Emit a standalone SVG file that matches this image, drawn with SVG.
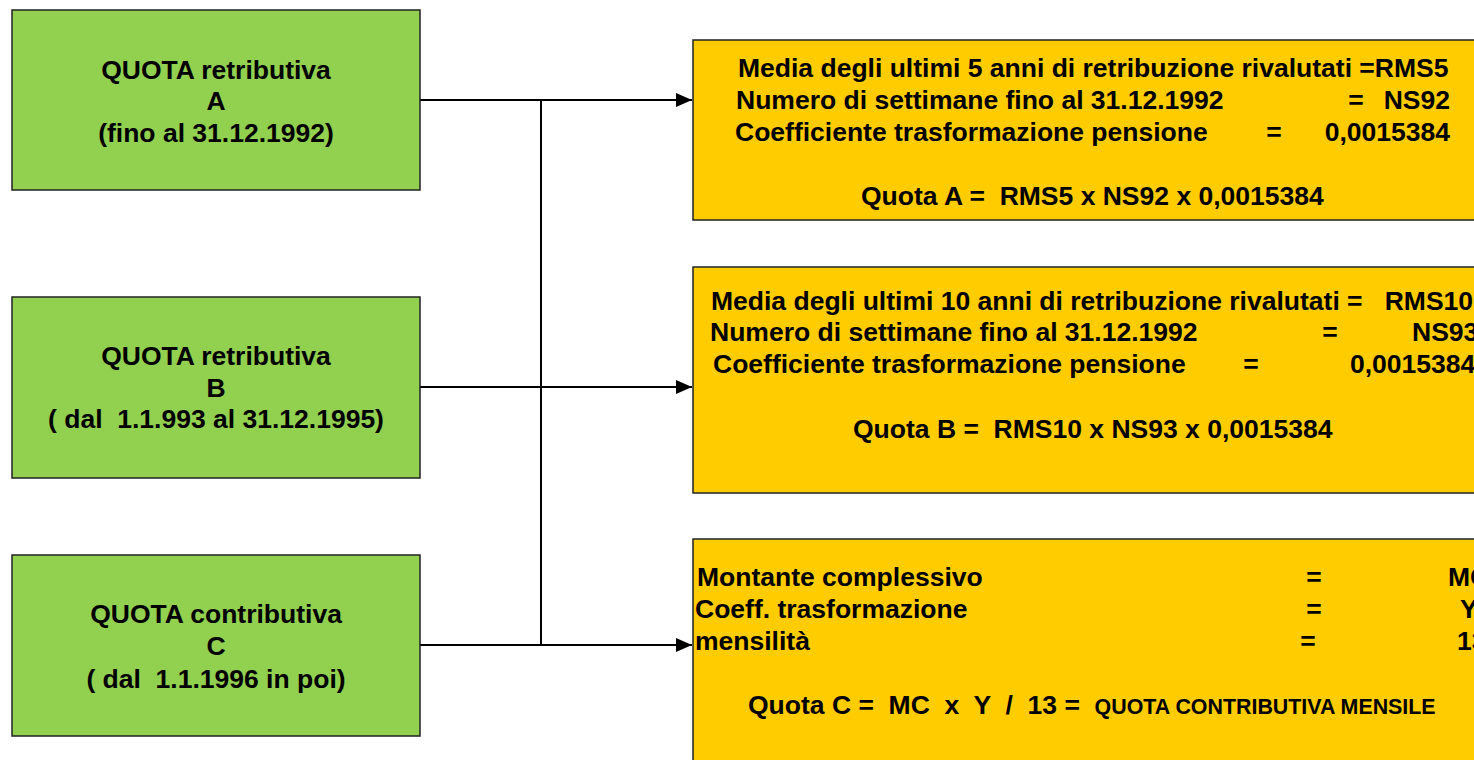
<svg xmlns="http://www.w3.org/2000/svg" width="1474" height="760" viewBox="0 0 1474 760">
<defs>
<style>
.g{fill:#92D050;stroke:#222;stroke-width:1.5}
.y{fill:#FFCC00;stroke:#222;stroke-width:1.5}
text{font-family:"Liberation Sans",Arial,sans-serif;font-weight:bold;font-size:26.5px;fill:#000}
.c{text-anchor:middle}
.e{text-anchor:end}
.s{font-size:21.4px}
.ln{fill:none;stroke:#000;stroke-width:2}
</style>
<marker id="ah" markerWidth="16" markerHeight="14" refX="16" refY="7" orient="auto" markerUnits="userSpaceOnUse">
<path d="M0,0 L16,7 L0,14 Z" fill="#000"/>
</marker>
</defs>
<g id="connectors">
<line class="ln" x1="541" y1="100" x2="541" y2="645"/>
<line class="ln" x1="420" y1="100" x2="692" y2="100" marker-end="url(#ah)"/>
<line class="ln" x1="420" y1="387" x2="692" y2="387" marker-end="url(#ah)"/>
<line class="ln" x1="420" y1="645" x2="692" y2="645" marker-end="url(#ah)"/>
</g>
<g id="nodeA">
<rect class="g" x="12" y="10" width="408" height="180"/>
<text class="c" x="216" y="79">QUOTA retributiva</text>
<text class="c" x="216" y="110">A</text>
<text class="c" x="216" y="142">(fino al 31.12.1992)</text>
</g>
<g id="nodeB">
<rect class="g" x="12" y="297" width="408" height="181"/>
<text class="c" x="216" y="365">QUOTA retributiva</text>
<text class="c" x="216" y="397">B</text>
<text class="c" x="216" y="428" xml:space="preserve">( dal  1.1.993 al 31.12.1995)</text>
</g>
<g id="nodeC">
<rect class="g" x="12" y="555" width="408" height="181"/>
<text class="c" x="216" y="623">QUOTA contributiva</text>
<text class="c" x="216" y="655">C</text>
<text class="c" x="216" y="688" xml:space="preserve">( dal  1.1.1996 in poi)</text>
</g>
<g id="formulaA">
<rect class="y" x="693" y="40" width="800" height="180"/>
<text x="738" y="77">Media degli ultimi 5 anni di retribuzione rivalutati =RMS5</text>
<text x="736" y="109">Numero di settimane fino al 31.12.1992</text>
<text class="c" x="1356" y="109">=</text>
<text class="e" x="1450" y="109">NS92</text>
<text x="735" y="141">Coefficiente trasformazione pensione</text>
<text class="c" x="1274" y="141">=</text>
<text class="e" x="1450" y="141">0,0015384</text>
<text x="861" y="205" xml:space="preserve">Quota A =  RMS5 x NS92 x 0,0015384</text>
</g>
<g id="formulaB">
<rect class="y" x="693" y="267" width="800" height="226"/>
<text x="711" y="310" xml:space="preserve">Media degli ultimi 10 anni di retribuzione rivalutati =   RMS10</text>
<text x="710" y="341">Numero di settimane fino al 31.12.1992</text>
<text class="c" x="1330" y="341">=</text>
<text x="1412" y="341">NS93</text>
<text x="713" y="373">Coefficiente trasformazione pensione</text>
<text class="c" x="1251" y="373">=</text>
<text x="1350" y="373">0,0015384</text>
<text x="853" y="438" xml:space="preserve">Quota B =  RMS10 x NS93 x 0,0015384</text>
</g>
<g id="formulaC">
<rect class="y" x="693" y="539" width="800" height="240"/>
<text x="697" y="586">Montante complessivo</text>
<text class="c" x="1314" y="586">=</text>
<text x="1448" y="586">MC</text>
<text x="695" y="618">Coeff. trasformazione</text>
<text class="c" x="1314" y="618">=</text>
<text x="1460" y="618">Y</text>
<text x="695" y="650">mensilità</text>
<text class="c" x="1308" y="650">=</text>
<text x="1457" y="650">13</text>
<text x="748" y="714" xml:space="preserve">Quota C =  MC  x  Y  /  13 =  <tspan class="s">QUOTA CONTRIBUTIVA MENSILE</tspan></text>
</g>
</svg>
